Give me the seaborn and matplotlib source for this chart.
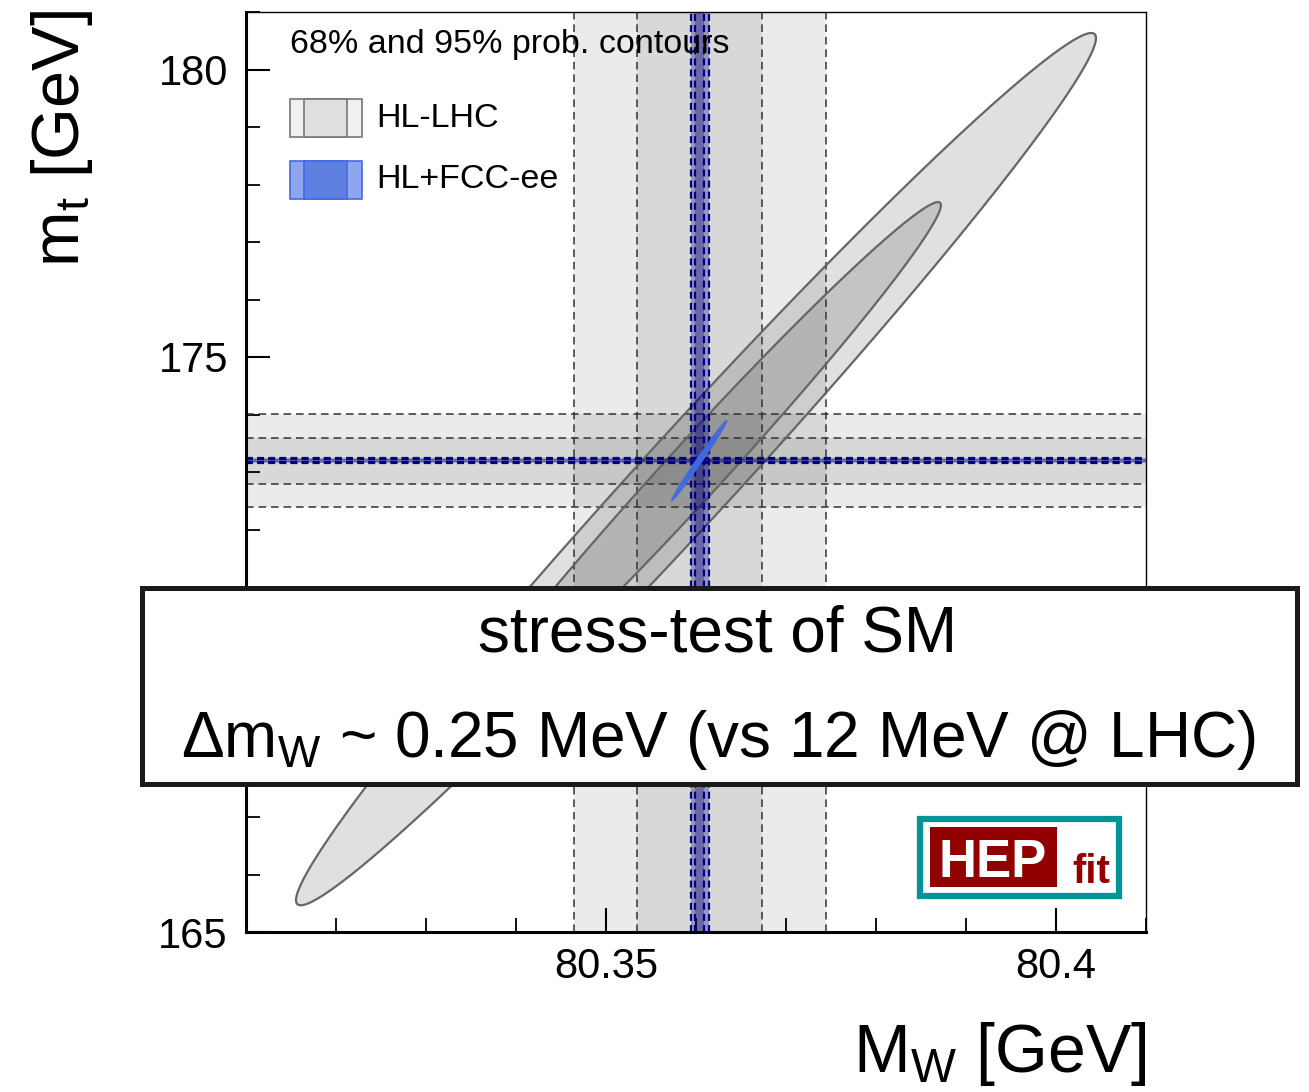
import numpy as np
import matplotlib
matplotlib.use("Agg")
import matplotlib.pyplot as plt
import seaborn as sns
from matplotlib.patches import Rectangle

sns.set_style("ticks")
plt.rcParams['font.family'] = ['Liberation Sans', 'DejaVu Sans']
plt.rcParams['mathtext.fontset'] = 'custom'
plt.rcParams['mathtext.rm'] = 'Liberation Sans'
plt.rcParams['mathtext.it'] = 'Liberation Sans:italic'
plt.rcParams['lines.scale_dashes'] = False
plt.rcParams['text.color'] = 'black'
plt.rcParams['axes.labelcolor'] = 'black'
plt.rcParams['xtick.color'] = 'black'
plt.rcParams['ytick.color'] = 'black'

# --- data ---
mw_center = 80.3604
mt_center = 173.2

# half widths of the 1D bands: [68%, 95%]
hl_mw_half = [0.0069, 0.0140]
hl_mt_half = [0.40, 0.81]
fcc_mw_half = [0.0005, 0.0010]
fcc_mt_half = [0.025, 0.05]

# 2D contours: centre, sigma, correlation
hl_ell_center = [80.3600, 173.05]
hl_ell_sigma = [0.01814, 3.096]
hl_ell_rho = 0.988
fcc_ell_center = [80.36036, 173.2]
fcc_ell_sigma = [0.00125, 0.284]
fcc_ell_rho = 0.9927
contour_levels = [1.5, 2.45]   # 68%, 95% (in sigma units)

x_range = [80.31, 80.41]
y_range = [165, 181]
x_major = [80.35, 80.40]
x_major_labels = ['80.35', '80.4']
y_major = [165, 170, 175, 180]
y_major_labels = ['165', '', '175', '180']

W, H = 1309, 1092


def fx(x):
    return x / W


def fy(y):
    return 1 - y / H


def ellipse(center, sigma, rho, k, n=300):
    t = np.linspace(0, 2 * np.pi, n)
    ex = center[0] + k * sigma[0] * np.cos(t)
    ey = center[1] + k * sigma[1] * (rho * np.cos(t) + np.sqrt(1 - rho ** 2) * np.sin(t))
    return ex, ey


fig = plt.figure(figsize=(W / 100, H / 100), dpi=100)
ax = fig.add_axes([fx(246), fy(932), 900 / W, 920 / H])
ax.set_xlim(x_range)
ax.set_ylim(y_range)

# HL-LHC 1D bands
for h in hl_mw_half:
    ax.axvspan(mw_center - h, mw_center + h, color='k', alpha=0.078, lw=0, zorder=1)
    for s in (-1, 1):
        ax.axvline(mw_center + s * h, color='#333333', lw=1.1, ls=(0, (5.5, 3.5)), zorder=3)
for h in hl_mt_half:
    ax.axhspan(mt_center - h, mt_center + h, color='k', alpha=0.078, lw=0, zorder=1)
    for s in (-1, 1):
        ax.axhline(mt_center + s * h, color='#333333', lw=1.1, ls=(0, (5.5, 3.5)), zorder=3)

# HL-LHC 2D contours
for k in sorted(contour_levels, reverse=True):
    ex, ey = ellipse(hl_ell_center, hl_ell_sigma, hl_ell_rho, k)
    ax.fill(ex, ey, facecolor='k', alpha=0.12, lw=0, zorder=2)
    sns.lineplot(x=ex, y=ey, sort=False, estimator=None, color='#666666', lw=1.6, ax=ax, zorder=4)

# FCC-ee 1D bands
for h in fcc_mw_half:
    ax.axvspan(mw_center - h, mw_center + h, color='navy', alpha=0.3, lw=0, zorder=5)
    for s in (-1, 1):
        ax.axvline(mw_center + s * h, color='navy', lw=1.6, ls=(0, (5, 3)), zorder=6)
for h in fcc_mt_half:
    ax.axhspan(mt_center - h, mt_center + h, color='navy', alpha=0.3, lw=0, zorder=5)
    for s in (-1, 1):
        ax.axhline(mt_center + s * h, color='navy', lw=1.6, ls=(0, (5, 3)), zorder=6)

# FCC-ee 2D contours
for k in sorted(contour_levels, reverse=True):
    ex, ey = ellipse(fcc_ell_center, fcc_ell_sigma, fcc_ell_rho, k)
    ax.fill(ex, ey, facecolor='#4169e1', edgecolor='#4169e1', alpha=0.85, lw=1, zorder=7)

ax.set_xlabel('')
ax.set_ylabel('')

# ticks, ROOT style
ax.set_xticks(x_major)
ax.set_xticklabels(x_major_labels)
ax.set_xticks(np.arange(80.31, 80.415, 0.01), minor=True)
ax.set_yticks(y_major)
ax.set_yticklabels(y_major_labels)
ax.set_yticks(np.arange(165, 181.5, 1), minor=True)
ax.tick_params(which='both', direction='in', top=False, right=False, colors='black')
ax.tick_params(which='major', length=17, width=1.5, labelsize=30)
ax.tick_params(which='minor', length=10, width=1.3)
ax.tick_params(axis='y', which='major', pad=13)
ax.tick_params(axis='x', which='major', pad=11)
for side in ['left', 'bottom']:
    ax.spines[side].set_linewidth(2.2)
for side in ['top', 'right']:
    ax.spines[side].set_linewidth(1.0)
for sp in ax.spines.values():
    sp.set_color('black')
    sp.set_zorder(10)

# axis titles
fig.text(fx(1147), fy(1088), r'$\mathregular{M_{W}}$ [GeV]', ha='right', va='bottom', fontsize=49)
fig.text(fx(62), fy(139), r'$\mathregular{m_{t}}$ [GeV]', ha='center', va='center',
         rotation=90, fontsize=48)

# legend
fig.text(fx(290), fy(45), '68% and 95% prob. contours', ha='left', va='center', fontsize=24.5, zorder=20)
legend_rows = [('HL-LHC', 118, '#f0f0f0', '#e0e0e0', '#777777'),
               ('HL+FCC-ee', 180, '#8fa5ee', '#5f80e0', '#4169e1')]
for label, yc, c_out, c_in, c_edge in legend_rows:
    fig.add_artist(Rectangle((fx(290), fy(yc + 19)), 72 / W, 38 / H, facecolor=c_out,
                             edgecolor=c_edge, lw=1.2, zorder=20))
    fig.add_artist(Rectangle((fx(304), fy(yc + 19)), 43 / W, 38 / H, facecolor=c_in,
                             edgecolor=c_edge, lw=1.2, zorder=21))
    fig.text(fx(376), fy(yc), label, ha='left', va='center', fontsize=24.5, zorder=22)

# overlay box
fig.add_artist(Rectangle((fx(142), fy(784)), 1155 / W, 196 / H, facecolor='white',
                         edgecolor='#1a1a1a', lw=3.6, zorder=30))
fig.text(fx(718), fy(652), 'stress-test of SM', ha='center', va='baseline', fontsize=46, zorder=31)
fig.text(fx(718), fy(757), r'$\mathregular{\Delta m_{W}}$ ~ 0.25 MeV (vs 12 MeV @ LHC)',
         ha='center', va='baseline', fontsize=46, zorder=31)

# HEPfit logo
fig.add_artist(Rectangle((fx(920), fy(896)), 199 / W, 77 / H, facecolor='white',
                         edgecolor='#009494', lw=4.5, zorder=30))
fig.add_artist(Rectangle((fx(930), fy(887)), 127 / W, 60 / H, facecolor='#920000',
                         edgecolor='none', zorder=31))
fig.text(fx(993), fy(877), 'HEP', ha='center', va='baseline', fontsize=38, fontweight='bold',
         color='white', zorder=32)
fig.text(fx(1091), fy(883), 'fit', ha='center', va='baseline', fontsize=29, fontweight='bold',
         color='#920000', zorder=32)

fig.savefig('out.png', dpi=100)
